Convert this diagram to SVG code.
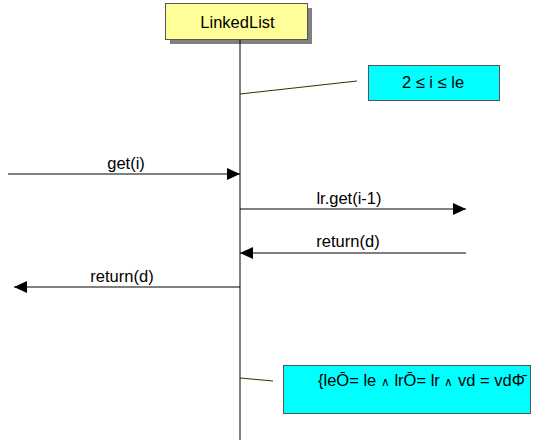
<svg xmlns="http://www.w3.org/2000/svg" width="542" height="443" viewBox="0 0 542 443">
  <defs>
    <marker id="arrow" markerWidth="14" markerHeight="12" refX="13" refY="6" orient="auto" markerUnits="userSpaceOnUse">
      <path d="M0,0 L13,6 L0,12 Z" fill="#000"/>
    </marker>
    <style>
      text { font-family: "Liberation Sans", Arial, sans-serif; font-size: 16.5px; fill: #000; }
      .msg { stroke: #000; stroke-width: 1; fill: none; }
      .lifeline { stroke: #000; stroke-width: 1; }
      .anchor { stroke: #333300; stroke-width: 1; }
      .note { fill: #00ffff; stroke: #555; stroke-width: 1; }
      .wedge { font-size: 12px; }
    </style>
  </defs>
  <rect width="542" height="443" fill="#fff"/>

  <g id="LinkedList">
    <rect x="170" y="8" width="142" height="36" fill="#808080"/>
    <rect x="165.5" y="3.5" width="142" height="36" fill="#ffff99" stroke="#555"/>
    <text x="237.5" y="28" text-anchor="middle">LinkedList</text>
    <line class="lifeline" x1="240" y1="40" x2="240" y2="440"/>
  </g>

  <g id="note-precondition">
    <rect class="note" x="368.5" y="65.5" width="131" height="35"/>
    <text x="433" y="88" text-anchor="middle">2 ≤ i ≤ le</text>
  </g>

  <g id="note-postcondition">
    <rect class="note" x="283.5" y="365.5" width="247" height="48"/>
    <text x="318" y="386">{leŌ= le <tspan class="wedge">∧</tspan> lrŌ= lr <tspan class="wedge">∧</tspan> vd = vdΦ̄</text>
  </g>

  <g id="connectors">
    <line class="anchor" x1="240" y1="94" x2="357" y2="81"/>
    <line class="anchor" x1="240" y1="378" x2="273" y2="381"/>

    <line class="msg" x1="8" y1="174" x2="240" y2="174" marker-end="url(#arrow)"/>
    <text x="126" y="169" text-anchor="middle">get(i)</text>

    <line class="msg" x1="240" y1="209" x2="466" y2="209" marker-end="url(#arrow)"/>
    <text x="349" y="204" text-anchor="middle">lr.get(i-1)</text>

    <line class="msg" x1="466" y1="253" x2="240" y2="253" marker-end="url(#arrow)"/>
    <text x="348" y="247" text-anchor="middle">return(d)</text>

    <line class="msg" x1="240" y1="287" x2="14" y2="287" marker-end="url(#arrow)"/>
    <text x="122" y="282" text-anchor="middle">return(d)</text>
  </g>
</svg>
